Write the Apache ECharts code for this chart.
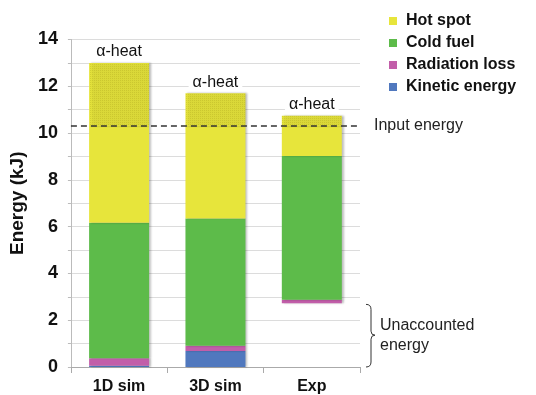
<!DOCTYPE html>
<html>
<head>
<meta charset="utf-8">
<script src="https://cdn.jsdelivr.net/npm/echarts@6/dist/echarts.min.js"></script>
<style>
html,body{margin:0;padding:0;background:#fff;}
#chart{width:536px;height:395px;}
</style>
</head>
<body>
<div id="chart"></div>
<script>
// ---- data ----
const categories = ['1D sim', '3D sim', 'Exp'];
const unaccounted = [0, 0, 2.72];          // invisible base
const kineticEnergy = [0.05, 0.68, 0];
const radiationLoss = [0.32, 0.23, 0.16];
const coldFuel = [5.8, 5.44, 6.14];
const hotSpot = [6.83, 5.35, 1.72];
const inputEnergy = 10.3;
const yTicks = [0, 2, 4, 6, 8, 10, 12, 14];

// split hot spot into part below input energy and alpha-heat part above
const below = categories.map((c, i) => unaccounted[i] + kineticEnergy[i] + radiationLoss[i] + coldFuel[i]);
const hotLow = categories.map((c, i) => Math.max(0, Math.min(below[i] + hotSpot[i], inputEnergy) - below[i]));
const alphaHeat = categories.map((c, i) => hotSpot[i] - hotLow[i]);

const FONT = 'Liberation Sans, Arial, sans-serif';
const cYellow = '#e7e53b', cGreen = '#5dbb4a', cPink = '#c25ea9', cBlue = '#5078be';
const shadow = { shadowColor: 'rgba(0,0,0,0.25)', shadowBlur: 2, shadowOffsetX: 2, shadowOffsetY: 0 };

const chart = echarts.init(document.getElementById('chart'));
function barSeries(name, data, color, extra) {
  return Object.assign({
    name, type: 'bar', stack: 'e', data, barWidth: 60,
    itemStyle: Object.assign({ color }, shadow),
    emphasis: { disabled: true }, animation: false
  }, extra || {});
}
chart.setOption({
  animation: false,
  textStyle: { fontFamily: FONT },
  grid: { left: 70, right: 176, top: 39.5, bottom: 28 },
  legend: {
    data: ['Hot spot', 'Cold fuel', 'Radiation loss', 'Kinetic energy'],
    orient: 'vertical', left: 384, top: 8,
    itemWidth: 8, itemHeight: 8, itemGap: 6,
    icon: 'rect',
    textStyle: { fontFamily: FONT, fontSize: 16, fontWeight: 'bold', color: '#111', padding: [0, 0, 0, 4] }
  },
  xAxis: {
    type: 'category', data: categories,
    axisLine: { lineStyle: { color: '#aaa' } },
    axisTick: { show: true, length: 6, lineStyle: { color: '#aaa' } },
    axisLabel: { fontFamily: FONT, fontSize: 16, fontWeight: 'bold', color: '#111', margin: 12 }
  },
  yAxis: {
    type: 'value', min: 0, max: 14, interval: 1,
    name: 'Energy (kJ)', nameLocation: 'middle', nameGap: 40, nameRotate: 90,
    nameTextStyle: { fontFamily: FONT, fontSize: 19, fontWeight: 'bold', color: '#111' },
    axisLine: { show: true, lineStyle: { color: '#bbb' } },
    axisTick: { show: true, length: 3, lineStyle: { color: '#bbb' }, interval: (i, v) => yTicks.includes(+v) },
    splitLine: { show: true, lineStyle: { color: '#dcdcdc' } },
    axisLabel: {
      fontFamily: FONT, fontSize: 18, fontWeight: 'bold', color: '#111', margin: 13,
      formatter: v => yTicks.includes(v) ? String(v) : ''
    }
  },
  series: [
    barSeries('base', unaccounted, 'transparent', { itemStyle: { color: 'transparent' } }),
    barSeries('Kinetic energy', kineticEnergy, cBlue),
    barSeries('Radiation loss', radiationLoss, cPink),
    barSeries('Cold fuel', coldFuel, cGreen),
    barSeries('Hot spot', hotLow, cYellow, {
      markLine: {
        silent: true, symbol: 'none', animation: false,
        lineStyle: { color: '#333', type: [6, 4], width: 1.5 },
        label: { show: true, position: 'end', formatter: 'Input energy', distance: 14,
          fontFamily: FONT, fontSize: 16, color: '#222' },
        data: [{ yAxis: inputEnergy }]
      }
    }),
    barSeries('α-heat', alphaHeat, cYellow, {
      itemStyle: Object.assign({
        color: cYellow,
        decal: { symbol: 'rect', symbolSize: 1, dashArrayX: [1, 1], dashArrayY: [1, 1], color: 'rgba(150,140,20,0.22)', rotation: 0 }
      }, shadow),
      label: {
        show: true, position: 'top', distance: 3, formatter: 'α-heat',
        fontFamily: FONT, fontSize: 16, color: '#111', backgroundColor: '#fff', padding: [1, 4, 0, 4]
      }
    })
  ]
});

// "Unaccounted energy" brace annotation, anchored to data coordinates
const yTop = chart.convertToPixel({ yAxisIndex: 0 }, unaccounted[2]);
const yBot = chart.convertToPixel({ yAxisIndex: 0 }, 0);
const xb = 366, ym = (yTop + yBot) / 2;
const st = { fill: 'none', stroke: '#333', lineWidth: 1 };
chart.setOption({
  graphic: [
    { type: 'bezierCurve', silent: true, shape: { x1: xb, y1: yTop + 1, x2: xb + 5, y2: yTop + 6, cpx1: xb + 5, cpy1: yTop + 1 }, style: st },
    { type: 'line', silent: true, shape: { x1: xb + 5, y1: yTop + 6, x2: xb + 5, y2: ym - 4 }, style: st },
    { type: 'bezierCurve', silent: true, shape: { x1: xb + 5, y1: ym - 4, x2: xb + 9, y2: ym, cpx1: xb + 5, cpy1: ym }, style: st },
    { type: 'bezierCurve', silent: true, shape: { x1: xb + 9, y1: ym, x2: xb + 5, y2: ym + 4, cpx1: xb + 5, cpy1: ym }, style: st },
    { type: 'line', silent: true, shape: { x1: xb + 5, y1: ym + 4, x2: xb + 5, y2: yBot - 5 }, style: st },
    { type: 'bezierCurve', silent: true, shape: { x1: xb + 5, y1: yBot - 5, x2: xb, y2: yBot, cpx1: xb + 5, cpy1: yBot }, style: st },
    { type: 'text', left: xb + 14, top: ym - 20, silent: true,
      style: { text: 'Unaccounted\nenergy', fontFamily: FONT, fontSize: 16, fill: '#222', lineHeight: 20 } }
  ]
});
</script>
</body>
</html>
